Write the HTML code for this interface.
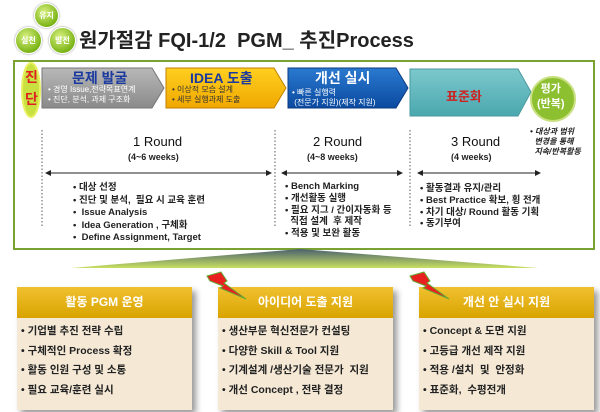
<!DOCTYPE html><html><head><meta charset="utf-8"><style>
body{margin:0;width:600px;height:412px;background:#fff;position:relative;overflow:hidden;font-family:"Liberation Sans","Noto Sans CJK KR",sans-serif}
.a{position:absolute}
.t{position:absolute;white-space:nowrap}
.c{position:absolute;border-radius:50%;background:radial-gradient(circle at 40% 35%,#d8f080,#7cb518 70%,#5a8a10);border:1px solid #fff;box-shadow:0 0 2px #888;color:#fff;font-size:8px;font-weight:bold;text-align:center}
.box{position:absolute;background:#f5e9d6;box-shadow:4px 4px 6px #999}
.hd{position:absolute;background:linear-gradient(#f0c030,#d9a400);color:#fff;font-size:12px;font-weight:bold;text-align:center;line-height:31px}
.bd{position:absolute;font-size:10.5px;font-weight:bold;color:#222;line-height:19.5px;white-space:nowrap}
.lt{font-size:9.5px;font-weight:bold;color:#222;line-height:12.5px}
</style></head><body>
<div class="c" style="left:34px;top:3px;width:23px;height:23px;line-height:23px">유지</div>
<div class="c" style="left:15px;top:27px;width:25px;height:25px;line-height:25px">실천</div>
<div class="c" style="left:49px;top:27px;width:25px;height:25px;line-height:25px">발전</div>
<div class="t" style="left:79px;top:24px;font-size:20px;font-weight:bold;color:#222">원가절감 FQI-1/2 &nbsp;PGM_ 추진Process</div>
<div class="a" style="left:13px;top:60px;width:578px;height:186px;border:2px solid #7aa232"></div>
<svg class="a" style="left:0;top:0" width="600" height="412">
<defs><linearGradient id="g1" x1="0" y1="0" x2="0" y2="1"><stop offset="0" stop-color="#b8b8b8"/><stop offset="1" stop-color="#8a8a8a"/></linearGradient>
<linearGradient id="g2" x1="0" y1="0" x2="0" y2="1"><stop offset="0" stop-color="#ffd020"/><stop offset="1" stop-color="#f0a800"/></linearGradient>
<linearGradient id="g3" x1="0" y1="0" x2="0" y2="1"><stop offset="0" stop-color="#2a7ad0"/><stop offset="1" stop-color="#0a4aa0"/></linearGradient>
<linearGradient id="g4" x1="0" y1="0" x2="0" y2="1"><stop offset="0" stop-color="#7cc8cc"/><stop offset="1" stop-color="#4aa8ae"/></linearGradient>
<linearGradient id="rf" x1="0" y1="0" x2="0" y2="1"><stop offset="0" stop-color="#4a6070"/><stop offset="1" stop-color="#c8e060"/></linearGradient>
<marker id="ar" markerWidth="6" markerHeight="6" refX="5" refY="3" orient="auto-start-reverse"><path d="M0,0L6,3L0,6z" fill="#222"/></marker></defs>
<polygon points="42,68 152,68 164,88 152,108 42,108" fill="url(#g1)" stroke="#777"/>
<polygon points="166,68 274,68 286,88 274,108 166,108" fill="url(#g2)" stroke="#c08000"/>
<polygon points="288,68 396,68 408,88 396,108 288,108" fill="url(#g3)" stroke="#0a3a80"/>
<polygon points="410,69 518,69 531,92 518,116 410,116" fill="url(#g4)" stroke="#4a9aa0"/>
<ellipse cx="31" cy="90" rx="9" ry="27" fill="#c8e040" stroke="#e8f060" stroke-width="2"/>
<circle cx="553" cy="99" r="22" fill="#8cc030" stroke="#c8e080" stroke-width="2"/>
<g stroke="#777" stroke-dasharray="1.5,2" stroke-width="1.2"><line x1="42" y1="130" x2="42" y2="228"/><line x1="275" y1="130" x2="275" y2="228"/><line x1="410" y1="130" x2="410" y2="228"/></g>
<g stroke="#222" stroke-width="1" marker-start="url(#ar)" marker-end="url(#ar)"><line x1="46" y1="173" x2="271" y2="173"/><line x1="282" y1="173" x2="402" y2="173"/><line x1="418" y1="173" x2="540" y2="173"/></g>
<polygon points="71,268 300,249 538,268" fill="url(#rf)"/>
</svg>
<div class="t" style="left:25px;top:66px;color:#e02020;font-size:14px;font-weight:bold;line-height:22px;width:14px">진<br>단</div>
<div class="t" style="left:72px;top:68px;color:#1a3aa0;font-size:14px;font-weight:bold">문제 발굴</div>
<div class="t" style="left:48px;top:85px;color:#fff;font-size:8px;line-height:10px">• 경영 Issue,전략목표연계<br>• 진단, 분석, 과제 구조화</div>
<div class="t" style="left:190px;top:68px;color:#1a3aa0;font-size:14px;font-weight:bold">IDEA 도출</div>
<div class="t" style="left:172px;top:85px;color:#333;font-size:8px;line-height:10px">• 이상적 모습 설계<br>• 세부 실행과제 도출</div>
<div class="t" style="left:315px;top:68px;color:#fff;font-size:14px;font-weight:bold">개선 실시</div>
<div class="t" style="left:292px;top:88px;color:#fff;font-size:8px;line-height:10px">• 빠른 실행력<br>&nbsp;(전문가 지원)(제작 지원)</div>
<div class="t" style="left:446px;top:86px;color:#d02020;font-size:13px;font-weight:bold">표준화</div>
<div class="t" style="left:537px;top:82px;color:#fff;font-size:11px;font-weight:bold;text-align:center;line-height:15px">평가<br>(반복)</div>
<div class="t" style="left:530px;top:127px;color:#222;font-size:8px;font-style:italic;font-weight:bold;line-height:10px">• 대상과 범위<br>&nbsp;&nbsp;변경을 통해<br>&nbsp;&nbsp;지속/반복활동</div>
<div class="t" style="left:133px;top:134px;font-size:13px;color:#111">1 Round</div>
<div class="t" style="left:128px;top:152px;font-size:9px;font-weight:bold;color:#222">(4~6 weeks)</div>
<div class="t" style="left:313px;top:134px;font-size:13px;color:#111">2 Round</div>
<div class="t" style="left:307px;top:152px;font-size:9px;font-weight:bold;color:#222">(4~8 weeks)</div>
<div class="t" style="left:451px;top:134px;font-size:13px;color:#111">3 Round</div>
<div class="t" style="left:451px;top:152px;font-size:9px;font-weight:bold;color:#222">(4 weeks)</div>
<div class="t lt" style="left:73px;top:182px">• 대상 선정<br>• 진단 및 분석, &nbsp;필요 시 교육 훈련<br>• &nbsp;Issue Analysis<br>• &nbsp;Idea Generation , 구체화<br>• &nbsp;Define Assignment, Target</div>
<div class="t lt" style="left:285px;top:181px;line-height:11.8px">• Bench Marking<br>• 개선활동 실행<br>• 필요 지그 / 간이자동화 등<br>&nbsp;&nbsp;직접 설계 &nbsp;후 제작<br>• 적용 및 보완 활동</div>
<div class="t lt" style="left:420px;top:183px;line-height:11.8px">• 활동결과 유지/관리<br>• Best Practice 확보, 횡 전개<br>• 차기 대상/ Round 활동 기획<br>• 동기부여</div>
<div class="box" style="left:17px;top:287px;width:175px;height:123px"></div>
<div class="hd" style="left:17px;top:287px;width:175px;height:31px">활동 PGM 운영</div>
<div class="bd" style="left:21px;top:322px">• 기업별 추진 전략 수립<br>• 구체적인 Process 확정<br>• 활동 인원 구성 및 소통<br>• 필요 교육/훈련 실시</div>
<div class="box" style="left:218px;top:287px;width:175px;height:123px"></div>
<div class="hd" style="left:218px;top:287px;width:175px;height:31px">아이디어 도출 지원</div>
<div class="bd" style="left:222px;top:322px">• 생산부문 혁신전문가 컨설팅<br>• 다양한 Skill &amp; Tool 지원<br>• 기계설계 /생산기술 전문가 &nbsp;지원<br>• 개선 Concept , 전략 결정</div>
<div class="box" style="left:419px;top:287px;width:175px;height:123px"></div>
<div class="hd" style="left:419px;top:287px;width:175px;height:31px">개선 안 실시 지원</div>
<div class="bd" style="left:423px;top:322px">• Concept &amp; 도면 지원<br>• 고등급 개선 제작 지원<br>• 적용 /설치 &nbsp;및 &nbsp;안정화<br>• 표준화, &nbsp;수평전개</div>
<svg class="a" style="left:0;top:0" width="600" height="412">
<polygon points="207,276 221,272 227,281 224,283 246,299 220,288 223,286 210,281" fill="#e82020" stroke="#6a3" stroke-width="1"/>
<polygon points="410,276 424,272 430,281 427,283 449,299 423,288 426,286 413,281" fill="#e82020" stroke="#6a3" stroke-width="1"/>
</svg>
</body></html>
